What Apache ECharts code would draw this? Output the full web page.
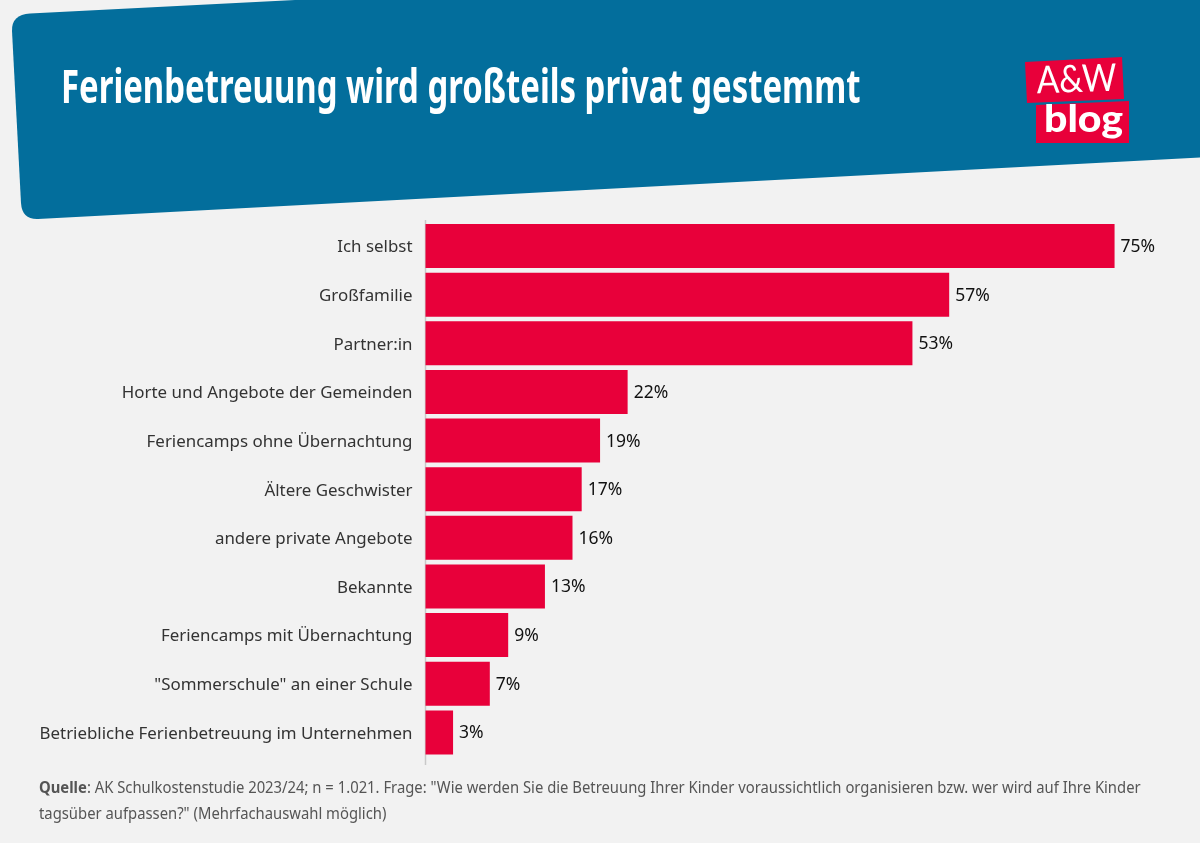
<!DOCTYPE html>
<html lang="de">
<head>
  <meta charset="UTF-8">
  <title>Ferienbetreuung wird großteils privat gestemmt</title>
  <script src="https://cdn.jsdelivr.net/npm/echarts/dist/echarts.js"></script>
  <style>
    html, body { margin: 0; padding: 0; background: #f2f2f2; }
    #chart { width: 1200px; height: 843px; }
  </style>
</head>
<body>
  <div id="chart"></div>
  <script>
    // Daten
    const categories = [
      'Ich selbst',
      'Großfamilie',
      'Partner:in',
      'Horte und Angebote der Gemeinden',
      'Feriencamps ohne Übernachtung',
      'Ältere Geschwister',
      'andere private Angebote',
      'Bekannte',
      'Feriencamps mit Übernachtung',
      '"Sommerschule" an einer Schule',
      'Betriebliche Ferienbetreuung im Unternehmen'
    ];
    const values = [75, 57, 53, 22, 19, 17, 16, 13, 9, 7, 3];
    const titleText = 'Ferienbetreuung wird großteils privat gestemmt';
    const sourceLine1 = ': AK Schulkostenstudie 2023/24; n = 1.021. Frage: "Wie werden Sie die Betreuung Ihrer Kinder voraussichtlich organisieren bzw. wer wird auf Ihre Kinder';
    const sourceLine2 = 'tagsüber aufpassen?" (Mehrfachauswahl möglich)';

    const BLUE = '#036e9c';
    const RED = '#e8003a';
    const FONT = '"Noto Sans", sans-serif';

    // Kopfband mit runden Ecken
    echarts.graphic.registerShape('headerBand', echarts.graphic.extendShape({
      buildPath: function (ctx) {
        ctx.moveTo(30, 13.5);
        ctx.lineTo(295, 0);
        ctx.lineTo(1200, 0);
        ctx.lineTo(1200, 157.5);
        ctx.lineTo(38, 219);
        ctx.quadraticCurveTo(22, 219.6, 21, 203);
        ctx.lineTo(12, 31);
        ctx.quadraticCurveTo(11.5, 14.5, 30, 13.5);
        ctx.closePath();
      }
    }));

    const chart = echarts.init(document.getElementById('chart'));

    chart.setOption({
      backgroundColor: '#f2f2f2',
      animation: false,
      grid: { left: 425.5, top: 221.7, width: 735, height: 535, containLabel: false },
      xAxis: { type: 'value', min: 0, max: 80, show: false },
      yAxis: {
        type: 'category',
        inverse: true,
        data: categories,
        axisLine: { show: false },
        axisTick: { show: false },
        axisLabel: {
          color: '#333333', fontFamily: FONT, fontSize: 16.9, margin: 13,
          verticalAlign: 'top', lineHeight: 3
        }
      },
      series: [{
        type: 'bar',
        data: values,
        barWidth: 44,
        itemStyle: { color: RED },
        label: {
          show: true,
          position: 'right',
          distance: 6,
          offset: [0, 1],
          formatter: '{c}%',
          color: '#111111',
          fontFamily: FONT,
          fontSize: 17.5
        }
      }],
      graphic: [
        {
          type: 'headerBand',
          style: { fill: BLUE }
        },
        {
          type: 'text', x: 61, y: 67, scaleX: 0.715,
          style: {
            text: titleText, fill: '#ffffff',
            font: 'bold 46px "Noto Sans", sans-serif'
          }
        },
        // Logo
        {
          type: 'polygon',
          shape: { points: [[1025, 62], [1122, 57], [1124, 99], [1027, 103]] },
          style: { fill: RED }
        },
        {
          type: 'polygon',
          shape: { points: [[1036, 105], [1129, 101], [1129, 143], [1036, 143]] },
          style: { fill: RED }
        },
        {
          type: 'text', x: 1036, y: 62, rotation: 0.03, scaleX: 0.88,
          style: { text: 'A&W', fill: '#ffffff', font: '400 38px Lato, sans-serif' }
        },
        {
          type: 'text', x: 1044, y: 101, scaleX: 1.08,
          style: { text: 'blog', fill: '#ffffff', font: '900 38px Lato, sans-serif' }
        },
        // Achsenlinie
        {
          type: 'line',
          shape: { x1: 425.5, y1: 220, x2: 425.5, y2: 765 },
          style: { stroke: '#c9c9c9', lineWidth: 1.5 }
        },
        // Quelle
        {
          type: 'text', x: 39, y: 776, scaleX: 0.956,
          style: {
            text: '{b|Quelle}' + sourceLine1 + '\n' + sourceLine2,
            fill: '#555555',
            font: '15.5px "Noto Sans", sans-serif',
            lineHeight: 26,
            rich: { b: { fontWeight: 'bold', fill: '#555555', fontFamily: FONT, fontSize: 15.5 } }
          }
        }
      ]
    });
  </script>
</body>
</html>
